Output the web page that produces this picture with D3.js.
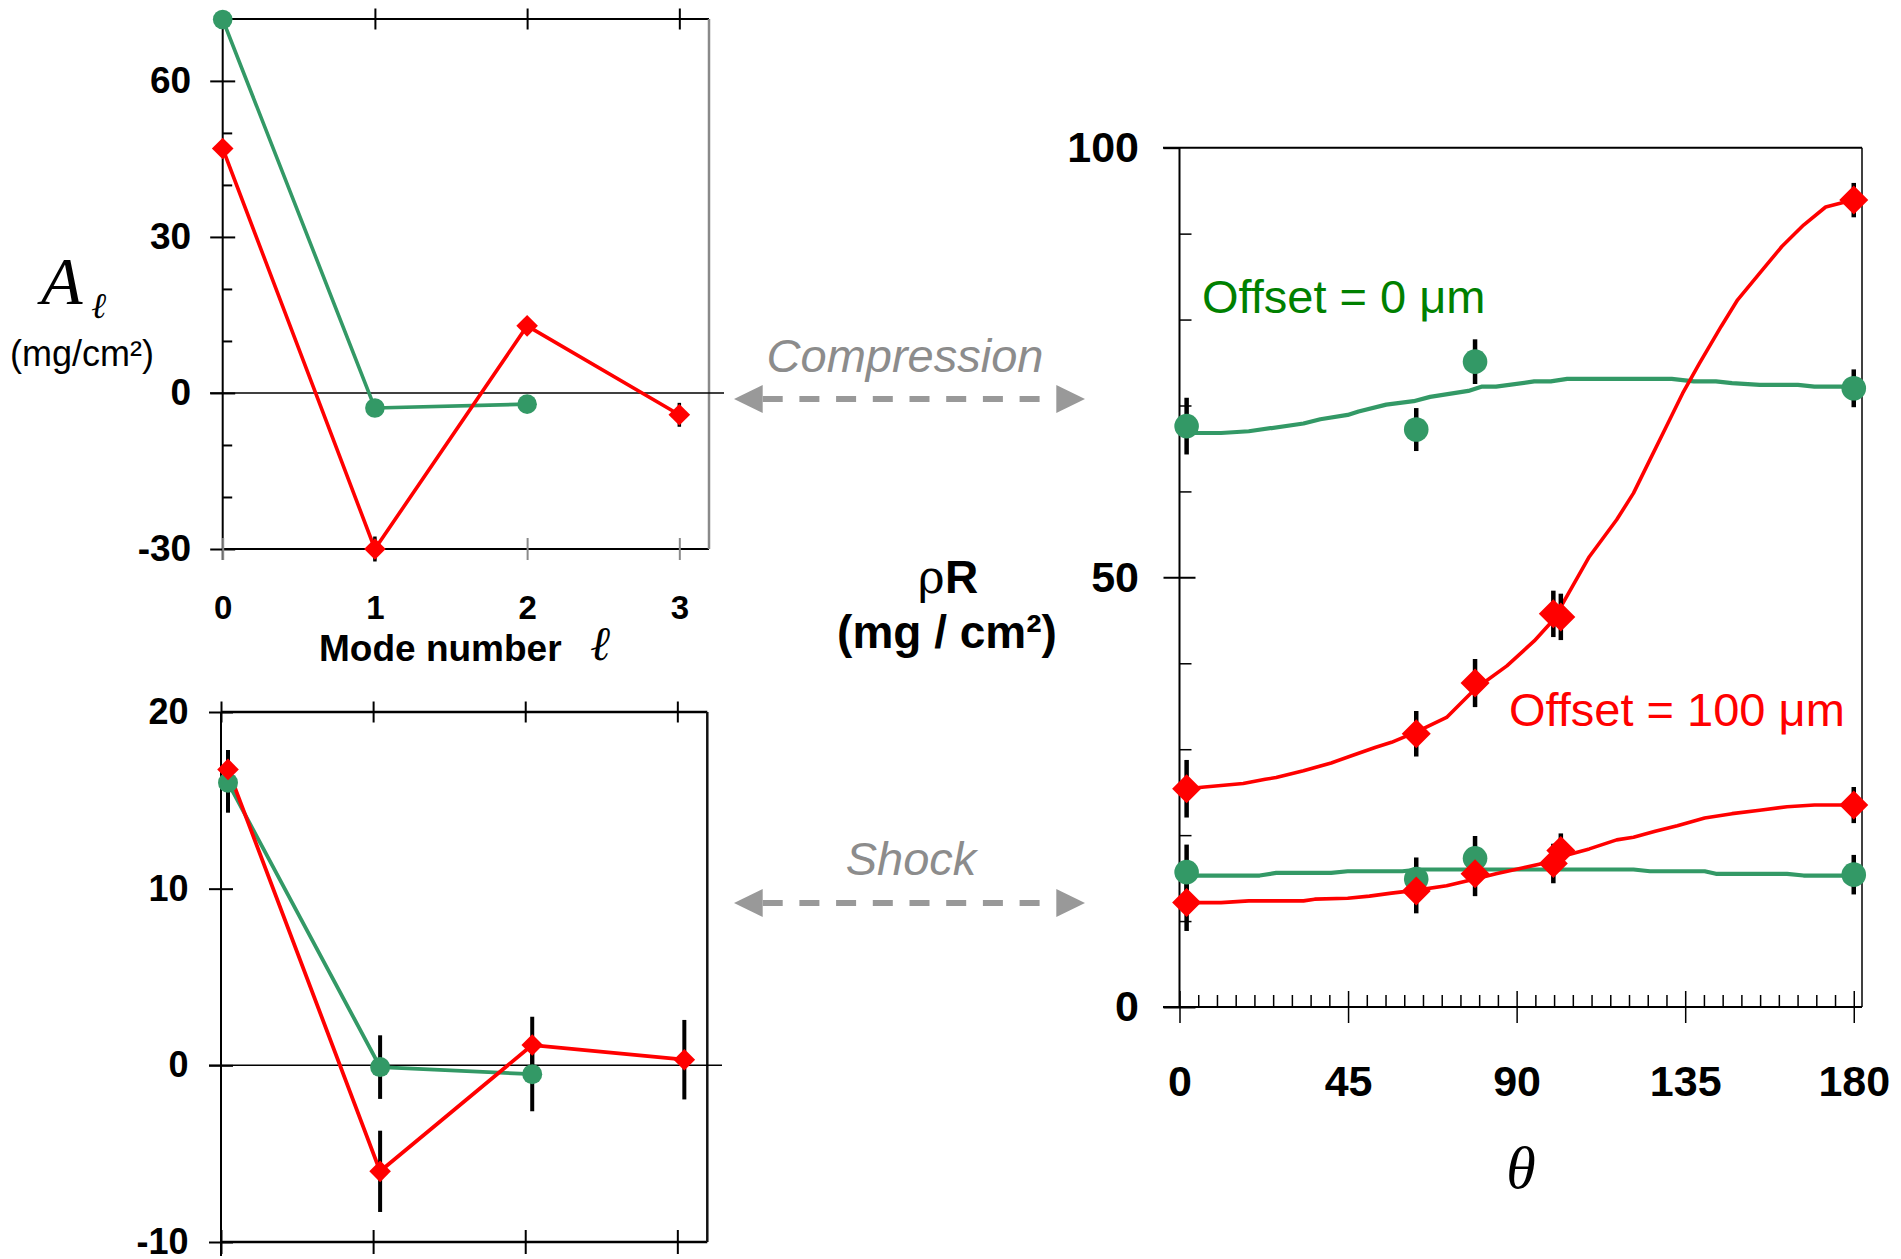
<!DOCTYPE html>
<html>
<head>
<meta charset="utf-8">
<script src="https://cdn.jsdelivr.net/npm/d3@7"></script>
<style>
  html, body { margin: 0; padding: 0; background: #fff; }
  svg { display: block; }
</style>
</head>
<body>
<svg id="fig" width="1901" height="1259"></svg>
<script>
// ---------------- data ----------------
// Legendre mode amplitudes A_l (mg/cm^2)
const modes = [0, 1, 2, 3];
const compAmpOffset0 = [71.8, -2.9, -2.15];
const compAmpOffset0Err = [1.0, 1.0, 1.6];
const compAmpOffset100 = [47.0, -30.0, 12.9, -4.2];
const compAmpOffset100Err = [1.0, 2.4, 1.0, 2.3];
const shockAmpOffset0 = [16.0, -0.1, -0.5];
const shockAmpOffset0Err = [1.7, 1.8, 2.1];
const shockAmpOffset100 = [16.75, -6.0, 1.15, 0.32];
const shockAmpOffset100Err = [1.1, 2.3, 1.6, 2.25];

// Tick labels
const compAmpTicks = [-30, 0, 30, 60];
const compAmpMinor = [-20, -10, 10, 20, 40, 50];
const shockAmpTicks = [-10, 0, 10, 20];
const thetaTicks = [0, 45, 90, 135, 180];
const rhoTicks = [0, 50, 100];
const rhoMinor = [10, 20, 30, 40, 60, 70, 80, 90];

// Measured rhoR (mg/cm^2) vs polar angle theta (deg)
const thetaOffset0 = [1.9, 63.2, 78.9, 180];
const thetaOffset100 = [1.9, 63.2, 78.9, 99.8, 101.8, 180];
const compRhoOffset0 = [67.6, 67.2, 75.1, 72.0];
const compRhoOffset0Err = [3.3, 2.5, 2.6, 2.2];
const compRhoOffset100 = [25.4, 31.8, 37.7, 45.75, 45.4, 93.9];
const compRhoOffset100Err = [3.35, 2.65, 2.8, 2.7, 2.7, 2.0];
const shockRhoOffset0 = [15.7, 14.9, 17.3, 15.4];
const shockRhoOffset0Err = [3.2, 2.5, 2.6, 2.3];
const shockRhoOffset100 = [12.15, 13.5, 15.5, 16.7, 18.2, 23.5];
const shockRhoOffset100Err = [3.3, 2.6, 2.6, 2.3, 2.0, 2.1];

// Simulated rhoR profiles
const fitComp0Theta = [1.9, 11.1, 18.5, 33.1, 37.6, 44.9, 47.8, 55.2, 62.5, 66.9, 77.1, 80.8, 84.5, 94.7, 99.1, 103.5, 131.4, 137.3, 143.2, 147.5, 154.9, 165.1, 169.5, 179.8];
const fitComp0Rho = [66.8, 66.8, 67.0, 67.9, 68.4, 68.9, 69.3, 70.1, 70.5, 71.0, 71.7, 72.2, 72.2, 72.8, 72.8, 73.1, 73.1, 72.8, 72.8, 72.6, 72.4, 72.4, 72.2, 72.2];
const fitComp100Theta = [1.9, 6.7, 17.0, 22.9, 25.8, 33.1, 40.5, 46.3, 52.2, 56.6, 63.4, 71.3, 78.9, 87.4, 94.7, 99.9, 102.1, 109.4, 116.7, 121.2, 125.6, 129.9, 134.3, 138.8, 144.6, 149.0, 154.9, 160.8, 166.6, 172.5, 176.9, 180];
const fitComp100Rho = [25.4, 25.6, 26.0, 26.5, 26.7, 27.5, 28.4, 29.3, 30.2, 30.8, 32.05, 33.7, 37.0, 39.7, 42.6, 45.1, 46.8, 52.4, 56.7, 59.8, 63.7, 67.5, 71.4, 74.9, 79.2, 82.3, 85.4, 88.5, 91.0, 93.1, 93.6, 93.9];
const fitShock0Theta = [1.9, 21.4, 25.8, 40.5, 44.9, 59.5, 63.9, 121.2, 125.6, 140.2, 143.2, 162.2, 166.6, 179.8];
const fitShock0Rho = [15.3, 15.3, 15.6, 15.6, 15.8, 15.8, 16.0, 16.0, 15.8, 15.8, 15.5, 15.5, 15.3, 15.3];
const fitShock100Theta = [1.9, 11.1, 18.5, 33.1, 36.1, 44.9, 50.7, 56.6, 63.4, 71.3, 78.9, 84.5, 91.8, 99.9, 103.5, 109.4, 116.7, 121.2, 127.0, 132.9, 140.2, 147.5, 154.9, 162.2, 169.5, 179.8];
const fitShock100Rho = [12.15, 12.15, 12.35, 12.35, 12.55, 12.65, 12.9, 13.25, 13.6, 14.1, 14.9, 15.5, 16.2, 17.0, 17.7, 18.4, 19.45, 19.75, 20.45, 21.1, 22.0, 22.5, 22.9, 23.3, 23.5, 23.5];

// ---------------- styles ----------------
const GREEN = "#339966", RED = "#ff0000", LABEL_GREEN = "#008000";
const ARROW_GREY = "#999999", TEXT_GREY = "#8c8c8c";
const SANS = "'Liberation Sans', Arial, Helvetica, sans-serif";
const SERIF = "'Liberation Serif', 'Times New Roman', serif";
const plainFormat = d => String(d);   // hyphen-minus, integers only

const svg = d3.select("#fig");
const zip = (xs, ys, es) => xs.map((x, i) => ({ x, y: ys[i], e: es ? es[i] : 0 }));

function styleAxis(g, size, color) {
  g.select(".domain").remove();
  g.selectAll(".tick line").attr("stroke", color || "#000").attr("stroke-width", 2);
  g.selectAll(".tick text")
    .attr("font-family", SANS).attr("font-weight", "bold")
    .attr("font-size", size).attr("fill", "#000");
  return g;
}

function drawLine(g, pts, xs, ys, color, lw, shift) {
  g.append("path")
    .datum(pts)
    .attr("fill", "none").attr("stroke", color).attr("stroke-width", lw)
    .attr("stroke-linejoin", "round")
    .attr("d", d3.line().x(d => xs(d.x) + (shift || 0)).y(d => ys(d.y)));
}
function drawBars(g, pts, xs, ys, shift, w) {
  g.selectAll(null).data(pts).enter().append("line")
    .attr("x1", d => xs(d.x) + shift).attr("x2", d => xs(d.x) + shift)
    .attr("y1", d => ys(d.y - d.e)).attr("y2", d => ys(d.y + d.e))
    .attr("stroke", "#000").attr("stroke-width", w);
}
function drawMarkers(g, pts, xs, ys, shift, kind, size, color) {
  if (kind === "circle") {
    g.selectAll(null).data(pts).enter().append("circle")
      .attr("cx", d => xs(d.x) + shift).attr("cy", d => ys(d.y))
      .attr("r", size).attr("fill", color);
  } else {
    const side = size * Math.SQRT2;
    const sym = d3.symbol().type(d3.symbolSquare).size(side * side);
    g.selectAll(null).data(pts).enter().append("path")
      .attr("d", sym)
      .attr("transform", d => `translate(${xs(d.x) + shift},${ys(d.y)}) rotate(45)`)
      .attr("fill", color);
  }
}

// ======== Panel: compression-phase mode amplitudes ========
{
  const g = svg.append("g");
  const x = d3.scaleLinear().domain([0, 3.195]).range([222.7, 709]);
  const y = d3.scaleLinear().domain([-30, 71.9]).range([549, 19]);

  // frame
  g.append("line").attr("x1", x(0)).attr("x2", x(0)).attr("y1", y(71.9)).attr("y2", 560).attr("stroke", "#000").attr("stroke-width", 2);
  g.append("line").attr("x1", x(0)).attr("x2", x(3.195)).attr("y1", y(71.9)).attr("y2", y(71.9)).attr("stroke", "#000").attr("stroke-width", 2);
  g.append("line").attr("x1", x(0)).attr("x2", x(3.195)).attr("y1", y(-30)).attr("y2", y(-30)).attr("stroke", "#000").attr("stroke-width", 2);
  g.append("line").attr("x1", x(3.195)).attr("x2", x(3.195)).attr("y1", y(71.9)).attr("y2", y(-30)).attr("stroke", "#8a8a8a").attr("stroke-width", 2.5);
  // zero line
  g.append("line").attr("x1", 210).attr("x2", 724).attr("y1", y(0)).attr("y2", y(0)).attr("stroke", "#000").attr("stroke-width", 1.5);

  // left axis: major ticks crossing, labels
  const ya = g.append("g").attr("transform", `translate(${x(0)},0)`)
    .call(d3.axisLeft(y).tickValues(compAmpTicks).tickFormat(plainFormat).tickSizeInner(12.5).tickSizeOuter(0).tickPadding(19));
  styleAxis(ya, 37);
  ya.selectAll(".tick line").attr("x1", 12.5);
  // minor ticks inside
  const ym = g.append("g").attr("transform", `translate(${x(0)},0)`)
    .call(d3.axisRight(y).tickValues(compAmpMinor).tickSize(9.5).tickFormat(""));
  styleAxis(ym, 10);
  // top ticks
  const xt = g.append("g").attr("transform", `translate(0,${y(71.9)})`)
    .call(d3.axisTop(x).tickValues([1, 2, 3]).tickSize(10.5).tickFormat(""));
  styleAxis(xt, 10);
  xt.selectAll(".tick line").attr("y1", 10.5);
  // bottom ticks + labels
  const xb = g.append("g").attr("transform", `translate(0,${y(-30)})`)
    .call(d3.axisBottom(x).tickValues(modes).tickFormat(plainFormat).tickSizeInner(11).tickSizeOuter(0).tickPadding(35.5));
  styleAxis(xb, 33, "#8a8a8a");
  xb.selectAll(".tick line").attr("y1", -11);

  const p0 = zip(modes.slice(0, compAmpOffset0.length), compAmpOffset0, compAmpOffset0Err);
  const p1 = zip(modes, compAmpOffset100, compAmpOffset100Err);
  drawLine(g, p0, x, y, GREEN, 3.6);
  drawLine(g, p1, x, y, RED, 3.6);
  drawBars(g, p0, x, y, 0, 3.5);
  drawBars(g, p1, x, y, 0, 3.5);
  drawMarkers(g, p0, x, y, 0, "circle", 9.8, GREEN);
  drawMarkers(g, p1, x, y, 0, "diamond", 10.8, RED);

  // axis titles
  g.append("text").attr("x", 41).attr("y", 303.6)
    .attr("font-family", SERIF).attr("font-style", "italic").attr("font-size", 68).text("A");
  g.append("text").attr("x", 91).attr("y", 318)
    .attr("font-family", "'DejaVu Serif', serif").attr("font-style", "italic").attr("font-size", 36).text("ℓ");
  g.append("text").attr("x", 82).attr("y", 366).attr("text-anchor", "middle")
    .attr("font-family", SANS).attr("font-size", 36).text("(mg/cm²)");
  g.append("text").attr("x", 319).attr("y", 661)
    .attr("font-family", SANS).attr("font-weight", "bold").attr("font-size", 37).text("Mode number");
  g.append("text").attr("x", 590).attr("y", 660)
    .attr("font-family", "'DejaVu Serif', serif").attr("font-style", "italic").attr("font-size", 48).text("ℓ");
}

// ======== Panel: shock-phase mode amplitudes ========
{
  const g = svg.append("g");
  const x = d3.scaleLinear().domain([0, 3.197]).range([221, 707.3]);
  const y = d3.scaleLinear().domain([-10, 20]).range([1242, 712]);
  const shift = 7;

  g.append("line").attr("x1", x(0)).attr("x2", x(0)).attr("y1", y(20)).attr("y2", 1256).attr("stroke", "#000").attr("stroke-width", 2);
  g.append("line").attr("x1", x(0)).attr("x2", x(3.197)).attr("y1", y(20)).attr("y2", y(20)).attr("stroke", "#000").attr("stroke-width", 2.5);
  g.append("line").attr("x1", x(0)).attr("x2", x(3.197)).attr("y1", y(-10)).attr("y2", y(-10)).attr("stroke", "#000").attr("stroke-width", 2.5);
  g.append("line").attr("x1", x(3.197)).attr("x2", x(3.197)).attr("y1", y(20)).attr("y2", y(-10)).attr("stroke", "#111").attr("stroke-width", 2.5);
  g.append("line").attr("x1", 209).attr("x2", 722).attr("y1", y(0)).attr("y2", y(0)).attr("stroke", "#000").attr("stroke-width", 1.5);

  const ya = g.append("g").attr("transform", `translate(${x(0)},0)`)
    .call(d3.axisLeft(y).tickValues(shockAmpTicks).tickFormat(plainFormat).tickSizeInner(12).tickSizeOuter(0).tickPadding(20.5));
  styleAxis(ya, 36);
  ya.selectAll(".tick line").attr("x1", 12);
  const xt = g.append("g").attr("transform", `translate(0,${y(20)})`)
    .call(d3.axisTop(x).tickValues(modes).tickSize(10.5).tickFormat(""));
  styleAxis(xt, 10);
  xt.selectAll(".tick line").attr("y1", 10.5);
  const xb = g.append("g").attr("transform", `translate(0,${y(-10)})`)
    .call(d3.axisBottom(x).tickValues(modes).tickSize(12).tickFormat(""));
  styleAxis(xb, 10);
  xb.selectAll(".tick line").attr("y1", -12);

  const p0 = zip(modes.slice(0, shockAmpOffset0.length), shockAmpOffset0, shockAmpOffset0Err);
  const p1 = zip(modes, shockAmpOffset100, shockAmpOffset100Err);
  drawLine(g, p0, x, y, GREEN, 3.8, shift);
  drawLine(g, p1, x, y, RED, 3.8, shift);
  drawBars(g, p0, x, y, shift, 4);
  drawBars(g, p1, x, y, shift, 4);
  drawMarkers(g, p0, x, y, shift, "circle", 10, GREEN);
  drawMarkers(g, p1, x, y, shift, "diamond", 10.8, RED);
}

// ======== Panel: rhoR versus polar angle ========
{
  const g = svg.append("g");
  const x = d3.scaleLinear().domain([0, 182.2]).range([1179.5, 1862]);
  const y = d3.scaleLinear().domain([0, 100]).range([1007, 147.7]);

  g.append("line").attr("x1", x(0)).attr("x2", x(0)).attr("y1", y(100)).attr("y2", y(0)).attr("stroke", "#000").attr("stroke-width", 2);
  g.append("line").attr("x1", 1163).attr("x2", x(182.2)).attr("y1", y(100)).attr("y2", y(100)).attr("stroke", "#000").attr("stroke-width", 2);
  g.append("line").attr("x1", 1163).attr("x2", x(182.2)).attr("y1", y(0)).attr("y2", y(0)).attr("stroke", "#000").attr("stroke-width", 2);
  g.append("line").attr("x1", x(182.2)).attr("x2", x(182.2)).attr("y1", y(100)).attr("y2", y(0)).attr("stroke", "#000").attr("stroke-width", 1.5);

  const ya = g.append("g").attr("transform", `translate(${x(0)},0)`)
    .call(d3.axisLeft(y).tickValues(rhoTicks).tickFormat(plainFormat).tickSizeInner(16).tickSizeOuter(0).tickPadding(24.5));
  styleAxis(ya, 43);
  ya.selectAll(".tick line").attr("x1", d => d === 100 ? 0 : 16);
  const ym = g.append("g").attr("transform", `translate(${x(0)},0)`)
    .call(d3.axisRight(y).tickValues(rhoMinor).tickSize(12).tickFormat(""));
  styleAxis(ym, 10);
  ym.selectAll(".tick line").attr("stroke-width", 1.5);

  const xa = g.append("g").attr("transform", `translate(0,${y(0)})`)
    .call(d3.axisBottom(x).tickValues(thetaTicks).tickFormat(plainFormat).tickSizeInner(16).tickSizeOuter(0).tickPadding(42.5));
  styleAxis(xa, 43);
  xa.selectAll(".tick line").attr("y1", -16).attr("stroke-width", 1.5);
  const xm = g.append("g").attr("transform", `translate(0,${y(0)})`)
    .call(d3.axisTop(x).tickValues(d3.range(5, 180, 5).filter(v => v % 45 !== 0)).tickSize(12).tickFormat(""));
  styleAxis(xm, 10);
  xm.selectAll(".tick line").attr("stroke-width", 1.5);

  drawLine(g, zip(fitComp0Theta, fitComp0Rho), x, y, GREEN, 4.2);
  drawLine(g, zip(fitShock0Theta, fitShock0Rho), x, y, GREEN, 4.2);
  drawLine(g, zip(fitComp100Theta, fitComp100Rho), x, y, RED, 3.6);
  drawLine(g, zip(fitShock100Theta, fitShock100Rho), x, y, RED, 3.6);

  const mC0 = zip(thetaOffset0, compRhoOffset0, compRhoOffset0Err);
  const mS0 = zip(thetaOffset0, shockRhoOffset0, shockRhoOffset0Err);
  const mC1 = zip(thetaOffset100, compRhoOffset100, compRhoOffset100Err);
  const mS1 = zip(thetaOffset100, shockRhoOffset100, shockRhoOffset100Err);
  [mC0, mS0, mC1, mS1].forEach(p => drawBars(g, p, x, y, 0, 4.5));
  drawMarkers(g, mC0, x, y, 0, "circle", 12.3, GREEN);
  drawMarkers(g, mS0, x, y, 0, "circle", 12.3, GREEN);
  drawMarkers(g, mC1, x, y, 0, "diamond", 14.5, RED);
  drawMarkers(g, mS1, x, y, 0, "diamond", 14.5, RED);

  g.append("text").attr("x", 1202).attr("y", 313)
    .attr("font-family", SANS).attr("font-size", 47).attr("fill", LABEL_GREEN).text("Offset = 0 μm");
  g.append("text").attr("x", 1509).attr("y", 726)
    .attr("font-family", SANS).attr("font-size", 47).attr("fill", RED).text("Offset = 100 μm");
  g.append("text").attr("x", 1521).attr("y", 1188).attr("text-anchor", "middle")
    .attr("font-family", SERIF).attr("font-style", "italic").attr("font-size", 60).text("θ");

  const t = g.append("text").attr("x", 948).attr("y", 593).attr("text-anchor", "middle")
    .attr("font-family", SANS).attr("font-size", 46);
  t.append("tspan").attr("font-family", "'DejaVu Serif', serif").text("ρ");
  t.append("tspan").attr("font-weight", "bold").text("R");
  g.append("text").attr("x", 947).attr("y", 648).attr("text-anchor", "middle")
    .attr("font-family", SANS).attr("font-weight", "bold").attr("font-size", 46).text("(mg / cm²)");
}

// ======== Connecting arrows between panels ========
function phaseArrow(yc, label, labelX, labelY) {
  const g = svg.append("g");
  const x0 = 734, x1 = 1085, head = 28.7, hh = 14;
  g.append("line").attr("x1", x0 + head).attr("x2", x1 - head).attr("y1", yc).attr("y2", yc)
    .attr("stroke", ARROW_GREY).attr("stroke-width", 6).attr("stroke-dasharray", "20 16.7");
  g.append("path").attr("d", `M${x0},${yc}L${x0 + head},${yc - hh}L${x0 + head},${yc + hh}Z`).attr("fill", ARROW_GREY);
  g.append("path").attr("d", `M${x1},${yc}L${x1 - head},${yc - hh}L${x1 - head},${yc + hh}Z`).attr("fill", ARROW_GREY);
  g.append("text").attr("x", labelX).attr("y", labelY).attr("text-anchor", "middle")
    .attr("font-family", SANS).attr("font-style", "italic").attr("font-size", 47)
    .attr("fill", TEXT_GREY).text(label);
}
phaseArrow(399, "Compression", 905, 372);
phaseArrow(903, "Shock", 911, 875);
</script>
</body>
</html>
